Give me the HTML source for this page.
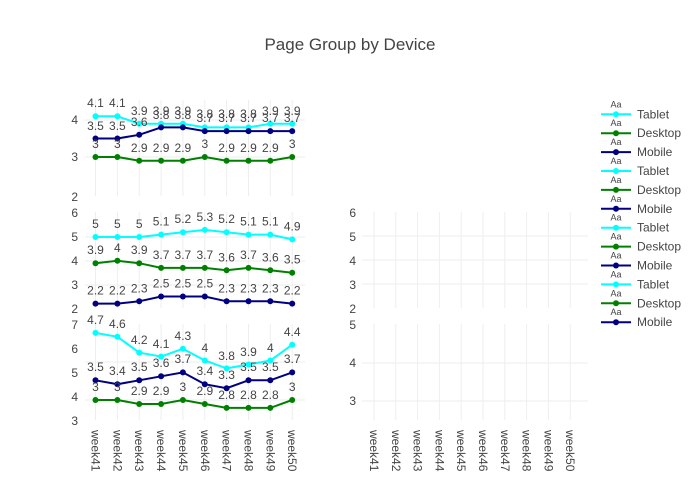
<!DOCTYPE html>
<html><head><meta charset="utf-8"><style>
body{margin:0;background:#fff}
svg{display:block;font-family:"Liberation Sans",sans-serif}
.t{font-size:12px;fill:#444}
.d{font-size:12px;fill:#444;text-anchor:middle}
.g{stroke:#eee;stroke-width:1}
.w{font-size:12px;fill:#444}
</style></head><body>
<svg width="700" height="500" viewBox="0 0 700 500">
<text x="350" y="50" text-anchor="middle" style="font-size:17px;fill:#444">Page Group by Device</text>

<!-- vertical gridlines left -->
<g class="g">
<path d="M95.5 100V196M117.4 100V196M139.2 100V196M161.1 100V196M182.9 100V196M204.8 100V196M226.6 100V196M248.5 100V196M270.3 100V196M292.2 100V196"/>
<path d="M95.5 212V308M117.4 212V308M139.2 212V308M161.1 212V308M182.9 212V308M204.8 212V308M226.6 212V308M248.5 212V308M270.3 212V308M292.2 212V308"/>
<path d="M95.5 324V420M117.4 324V420M139.2 324V420M161.1 324V420M182.9 324V420M204.8 324V420M226.6 324V420M248.5 324V420M270.3 324V420M292.2 324V420"/>
<path d="M85 120H305M85 157H305M85 237H305M85 261H305M85 285H305M85 362H305M85 400H305"/>
<path d="M374 212V308M395.8 212V308M417.6 212V308M439.4 212V308M461.2 212V308M483 212V308M504.8 212V308M526.6 212V308M548.4 212V308M570.2 212V308"/>
<path d="M374 324V420M395.8 324V420M417.6 324V420M439.4 324V420M461.2 324V420M483 324V420M504.8 324V420M526.6 324V420M548.4 324V420M570.2 324V420"/>
<path d="M362 236H588M362 260H588M362 284H588M362 363H588M362 401H588"/>
</g>

<!-- y tick labels left -->
<g class="t" text-anchor="end">
<text x="78" y="124">4</text><text x="78" y="161">3</text><text x="78" y="201">2</text>
<text x="78" y="217">6</text><text x="78" y="241">5</text><text x="78" y="265">4</text><text x="78" y="289">3</text><text x="78" y="313">2</text>
<text x="78" y="329">7</text><text x="78" y="353">6</text><text x="78" y="377">5</text><text x="78" y="401">4</text><text x="78" y="425">3</text>
<text x="356" y="217">6</text><text x="356" y="241">5</text><text x="356" y="265">4</text><text x="356" y="289">3</text><text x="356" y="313">2</text>
<text x="356" y="329">5</text><text x="356" y="367">4</text><text x="356" y="405">3</text>
</g>

<!-- x labels -->
<g class="w">
<text transform="translate(91.5,430) rotate(90)">week41</text>
<text transform="translate(113.4,430) rotate(90)">week42</text>
<text transform="translate(135.2,430) rotate(90)">week43</text>
<text transform="translate(157.1,430) rotate(90)">week44</text>
<text transform="translate(178.9,430) rotate(90)">week45</text>
<text transform="translate(200.8,430) rotate(90)">week46</text>
<text transform="translate(222.6,430) rotate(90)">week47</text>
<text transform="translate(244.5,430) rotate(90)">week48</text>
<text transform="translate(266.3,430) rotate(90)">week49</text>
<text transform="translate(288.2,430) rotate(90)">week50</text>
<text transform="translate(370,430) rotate(90)">week41</text>
<text transform="translate(391.8,430) rotate(90)">week42</text>
<text transform="translate(413.6,430) rotate(90)">week43</text>
<text transform="translate(435.4,430) rotate(90)">week44</text>
<text transform="translate(457.2,430) rotate(90)">week45</text>
<text transform="translate(479,430) rotate(90)">week46</text>
<text transform="translate(500.8,430) rotate(90)">week47</text>
<text transform="translate(522.6,430) rotate(90)">week48</text>
<text transform="translate(544.4,430) rotate(90)">week49</text>
<text transform="translate(566.2,430) rotate(90)">week50</text>
</g>

<!-- Top panel -->
<polyline fill="none" stroke="#00ffff" stroke-width="2" points="95.5,116.3 117.4,116.3 139.2,123.7 161.1,123.7 182.9,123.7 204.8,127.4 226.6,127.4 248.5,127.4 270.3,123.7 292.2,123.7"/>
<g fill="#00ffff"><circle cx="95.5" cy="116.3" r="3"/><circle cx="117.4" cy="116.3" r="3"/><circle cx="139.2" cy="123.7" r="3"/><circle cx="161.1" cy="123.7" r="3"/><circle cx="182.9" cy="123.7" r="3"/><circle cx="204.8" cy="127.4" r="3"/><circle cx="226.6" cy="127.4" r="3"/><circle cx="248.5" cy="127.4" r="3"/><circle cx="270.3" cy="123.7" r="3"/><circle cx="292.2" cy="123.7" r="3"/></g>
<polyline fill="none" stroke="#008000" stroke-width="2" points="95.5,157 117.4,157 139.2,160.7 161.1,160.7 182.9,160.7 204.8,157 226.6,160.7 248.5,160.7 270.3,160.7 292.2,157"/>
<g fill="#008000"><circle cx="95.5" cy="157" r="3"/><circle cx="117.4" cy="157" r="3"/><circle cx="139.2" cy="160.7" r="3"/><circle cx="161.1" cy="160.7" r="3"/><circle cx="182.9" cy="160.7" r="3"/><circle cx="204.8" cy="157" r="3"/><circle cx="226.6" cy="160.7" r="3"/><circle cx="248.5" cy="160.7" r="3"/><circle cx="270.3" cy="160.7" r="3"/><circle cx="292.2" cy="157" r="3"/></g>
<polyline fill="none" stroke="#000080" stroke-width="2" points="95.5,138.5 117.4,138.5 139.2,134.8 161.1,127.4 182.9,127.4 204.8,131.1 226.6,131.1 248.5,131.1 270.3,131.1 292.2,131.1"/>
<g fill="#000080"><circle cx="95.5" cy="138.5" r="3"/><circle cx="117.4" cy="138.5" r="3"/><circle cx="139.2" cy="134.8" r="3"/><circle cx="161.1" cy="127.4" r="3"/><circle cx="182.9" cy="127.4" r="3"/><circle cx="204.8" cy="131.1" r="3"/><circle cx="226.6" cy="131.1" r="3"/><circle cx="248.5" cy="131.1" r="3"/><circle cx="270.3" cy="131.1" r="3"/><circle cx="292.2" cy="131.1" r="3"/></g>
<g class="d">
<text x="95.5" y="107">4.1</text><text x="117.4" y="107">4.1</text><text x="139.2" y="115">3.9</text><text x="161.1" y="115">3.9</text><text x="182.9" y="115">3.9</text><text x="204.8" y="118">3.8</text><text x="226.6" y="118">3.8</text><text x="248.5" y="118">3.8</text><text x="270.3" y="115">3.9</text><text x="292.2" y="115">3.9</text>
<text x="95.5" y="148">3</text><text x="117.4" y="148">3</text><text x="139.2" y="152">2.9</text><text x="161.1" y="152">2.9</text><text x="182.9" y="152">2.9</text><text x="204.8" y="148">3</text><text x="226.6" y="152">2.9</text><text x="248.5" y="152">2.9</text><text x="270.3" y="152">2.9</text><text x="292.2" y="148">3</text>
<text x="95.5" y="130">3.5</text><text x="117.4" y="130">3.5</text><text x="139.2" y="126">3.6</text><text x="161.1" y="119">3.8</text><text x="182.9" y="119">3.8</text><text x="204.8" y="122">3.7</text><text x="226.6" y="122">3.7</text><text x="248.5" y="122">3.7</text><text x="270.3" y="122">3.7</text><text x="292.2" y="122">3.7</text>
</g>

<!-- Middle panel -->
<polyline fill="none" stroke="#00ffff" stroke-width="2" points="95.5,237 117.4,237 139.2,237 161.1,234.6 182.9,232.2 204.8,229.9 226.6,232.2 248.5,234.6 270.3,234.6 292.2,239.4"/>
<g fill="#00ffff"><circle cx="95.5" cy="237" r="3"/><circle cx="117.4" cy="237" r="3"/><circle cx="139.2" cy="237" r="3"/><circle cx="161.1" cy="234.6" r="3"/><circle cx="182.9" cy="232.2" r="3"/><circle cx="204.8" cy="229.9" r="3"/><circle cx="226.6" cy="232.2" r="3"/><circle cx="248.5" cy="234.6" r="3"/><circle cx="270.3" cy="234.6" r="3"/><circle cx="292.2" cy="239.4" r="3"/></g>
<polyline fill="none" stroke="#008000" stroke-width="2" points="95.5,263.2 117.4,260.8 139.2,263.2 161.1,267.9 182.9,267.9 204.8,267.9 226.6,270.3 248.5,267.9 270.3,270.3 292.2,272.7"/>
<g fill="#008000"><circle cx="95.5" cy="263.2" r="3"/><circle cx="117.4" cy="260.8" r="3"/><circle cx="139.2" cy="263.2" r="3"/><circle cx="161.1" cy="267.9" r="3"/><circle cx="182.9" cy="267.9" r="3"/><circle cx="204.8" cy="267.9" r="3"/><circle cx="226.6" cy="270.3" r="3"/><circle cx="248.5" cy="267.9" r="3"/><circle cx="270.3" cy="270.3" r="3"/><circle cx="292.2" cy="272.7" r="3"/></g>
<polyline fill="none" stroke="#000080" stroke-width="2" points="95.5,303.6 117.4,303.6 139.2,301.3 161.1,296.5 182.9,296.5 204.8,296.5 226.6,301.3 248.5,301.3 270.3,301.3 292.2,303.6"/>
<g fill="#000080"><circle cx="95.5" cy="303.6" r="3"/><circle cx="117.4" cy="303.6" r="3"/><circle cx="139.2" cy="301.3" r="3"/><circle cx="161.1" cy="296.5" r="3"/><circle cx="182.9" cy="296.5" r="3"/><circle cx="204.8" cy="296.5" r="3"/><circle cx="226.6" cy="301.3" r="3"/><circle cx="248.5" cy="301.3" r="3"/><circle cx="270.3" cy="301.3" r="3"/><circle cx="292.2" cy="303.6" r="3"/></g>
<g class="d">
<text x="95.5" y="228">5</text><text x="117.4" y="228">5</text><text x="139.2" y="228">5</text><text x="161.1" y="225.6">5.1</text><text x="182.9" y="223.2">5.2</text><text x="204.8" y="220.9">5.3</text><text x="226.6" y="223.2">5.2</text><text x="248.5" y="225.6">5.1</text><text x="270.3" y="225.6">5.1</text><text x="292.2" y="230.4">4.9</text>
<text x="95.5" y="254.2">3.9</text><text x="117.4" y="251.8">4</text><text x="139.2" y="254.2">3.9</text><text x="161.1" y="258.9">3.7</text><text x="182.9" y="258.9">3.7</text><text x="204.8" y="258.9">3.7</text><text x="226.6" y="261.3">3.6</text><text x="248.5" y="258.9">3.7</text><text x="270.3" y="261.3">3.6</text><text x="292.2" y="263.7">3.5</text>
<text x="95.5" y="294.6">2.2</text><text x="117.4" y="294.6">2.2</text><text x="139.2" y="292.3">2.3</text><text x="161.1" y="287.5">2.5</text><text x="182.9" y="287.5">2.5</text><text x="204.8" y="287.5">2.5</text><text x="226.6" y="292.3">2.3</text><text x="248.5" y="292.3">2.3</text><text x="270.3" y="292.3">2.3</text><text x="292.2" y="294.6">2.2</text>
</g>

<!-- Bottom panel -->
<polyline fill="none" stroke="#00ffff" stroke-width="2" points="95.5,332.9 117.4,336.8 139.2,352.6 161.1,356.6 182.9,348.7 204.8,360.5 226.6,368.4 248.5,364.5 270.3,360.5 292.2,344.7"/>
<g fill="#00ffff"><circle cx="95.5" cy="332.9" r="3"/><circle cx="117.4" cy="336.8" r="3"/><circle cx="139.2" cy="352.6" r="3"/><circle cx="161.1" cy="356.6" r="3"/><circle cx="182.9" cy="348.7" r="3"/><circle cx="204.8" cy="360.5" r="3"/><circle cx="226.6" cy="368.4" r="3"/><circle cx="248.5" cy="364.5" r="3"/><circle cx="270.3" cy="360.5" r="3"/><circle cx="292.2" cy="344.7" r="3"/></g>
<polyline fill="none" stroke="#000080" stroke-width="2" points="95.5,380.3 117.4,384.2 139.2,380.3 161.1,376.3 182.9,372.4 204.8,384.2 226.6,388.2 248.5,380.3 270.3,380.3 292.2,372.4"/>
<g fill="#000080"><circle cx="95.5" cy="380.3" r="3"/><circle cx="117.4" cy="384.2" r="3"/><circle cx="139.2" cy="380.3" r="3"/><circle cx="161.1" cy="376.3" r="3"/><circle cx="182.9" cy="372.4" r="3"/><circle cx="204.8" cy="384.2" r="3"/><circle cx="226.6" cy="388.2" r="3"/><circle cx="248.5" cy="380.3" r="3"/><circle cx="270.3" cy="380.3" r="3"/><circle cx="292.2" cy="372.4" r="3"/></g>
<polyline fill="none" stroke="#008000" stroke-width="2" points="95.5,400 117.4,400 139.2,404 161.1,404 182.9,400 204.8,404 226.6,407.9 248.5,407.9 270.3,407.9 292.2,400"/>
<g fill="#008000"><circle cx="95.5" cy="400" r="3"/><circle cx="117.4" cy="400" r="3"/><circle cx="139.2" cy="404" r="3"/><circle cx="161.1" cy="404" r="3"/><circle cx="182.9" cy="400" r="3"/><circle cx="204.8" cy="404" r="3"/><circle cx="226.6" cy="407.9" r="3"/><circle cx="248.5" cy="407.9" r="3"/><circle cx="270.3" cy="407.9" r="3"/><circle cx="292.2" cy="400" r="3"/></g>
<g class="d">
<text x="95.5" y="324">4.7</text><text x="117.4" y="328">4.6</text><text x="139.2" y="344">4.2</text><text x="161.1" y="348">4.1</text><text x="182.9" y="340">4.3</text><text x="204.8" y="352">4</text><text x="226.6" y="360">3.8</text><text x="248.5" y="356">3.9</text><text x="270.3" y="352">4</text><text x="292.2" y="336">4.4</text>
<text x="95.5" y="371">3.5</text><text x="117.4" y="375">3.4</text><text x="139.2" y="371">3.5</text><text x="161.1" y="367">3.6</text><text x="182.9" y="363">3.7</text><text x="204.8" y="375">3.4</text><text x="226.6" y="379">3.3</text><text x="248.5" y="371">3.5</text><text x="270.3" y="371">3.5</text><text x="292.2" y="363">3.7</text>
<text x="95.5" y="391">3</text><text x="117.4" y="391">3</text><text x="139.2" y="395">2.9</text><text x="161.1" y="395">2.9</text><text x="182.9" y="391">3</text><text x="204.8" y="395">2.9</text><text x="226.6" y="399">2.8</text><text x="248.5" y="399">2.8</text><text x="270.3" y="399">2.8</text><text x="292.2" y="391">3</text>
</g>

<!-- Legend -->
<g style="font-size:12px;fill:#444">
<g transform="translate(0,114.3)"><text x="616" y="-7" text-anchor="middle" style="font-size:9px">Aa</text><path d="M601 0H631" stroke="#00ffff" stroke-width="2"/><circle cx="616" cy="0" r="3" fill="#00ffff"/><text x="637" y="4">Tablet</text></g>
<g transform="translate(0,133.2)"><text x="616" y="-7" text-anchor="middle" style="font-size:9px">Aa</text><path d="M601 0H631" stroke="#008000" stroke-width="2"/><circle cx="616" cy="0" r="3" fill="#008000"/><text x="637" y="4">Desktop</text></g>
<g transform="translate(0,152.1)"><text x="616" y="-7" text-anchor="middle" style="font-size:9px">Aa</text><path d="M601 0H631" stroke="#000080" stroke-width="2"/><circle cx="616" cy="0" r="3" fill="#000080"/><text x="637" y="4">Mobile</text></g>
<g transform="translate(0,171)"><text x="616" y="-7" text-anchor="middle" style="font-size:9px">Aa</text><path d="M601 0H631" stroke="#00ffff" stroke-width="2"/><circle cx="616" cy="0" r="3" fill="#00ffff"/><text x="637" y="4">Tablet</text></g>
<g transform="translate(0,189.9)"><text x="616" y="-7" text-anchor="middle" style="font-size:9px">Aa</text><path d="M601 0H631" stroke="#008000" stroke-width="2"/><circle cx="616" cy="0" r="3" fill="#008000"/><text x="637" y="4">Desktop</text></g>
<g transform="translate(0,208.8)"><text x="616" y="-7" text-anchor="middle" style="font-size:9px">Aa</text><path d="M601 0H631" stroke="#000080" stroke-width="2"/><circle cx="616" cy="0" r="3" fill="#000080"/><text x="637" y="4">Mobile</text></g>
<g transform="translate(0,227.7)"><text x="616" y="-7" text-anchor="middle" style="font-size:9px">Aa</text><path d="M601 0H631" stroke="#00ffff" stroke-width="2"/><circle cx="616" cy="0" r="3" fill="#00ffff"/><text x="637" y="4">Tablet</text></g>
<g transform="translate(0,246.6)"><text x="616" y="-7" text-anchor="middle" style="font-size:9px">Aa</text><path d="M601 0H631" stroke="#008000" stroke-width="2"/><circle cx="616" cy="0" r="3" fill="#008000"/><text x="637" y="4">Desktop</text></g>
<g transform="translate(0,265.5)"><text x="616" y="-7" text-anchor="middle" style="font-size:9px">Aa</text><path d="M601 0H631" stroke="#000080" stroke-width="2"/><circle cx="616" cy="0" r="3" fill="#000080"/><text x="637" y="4">Mobile</text></g>
<g transform="translate(0,284.4)"><text x="616" y="-7" text-anchor="middle" style="font-size:9px">Aa</text><path d="M601 0H631" stroke="#00ffff" stroke-width="2"/><circle cx="616" cy="0" r="3" fill="#00ffff"/><text x="637" y="4">Tablet</text></g>
<g transform="translate(0,303.3)"><text x="616" y="-7" text-anchor="middle" style="font-size:9px">Aa</text><path d="M601 0H631" stroke="#008000" stroke-width="2"/><circle cx="616" cy="0" r="3" fill="#008000"/><text x="637" y="4">Desktop</text></g>
<g transform="translate(0,322.2)"><text x="616" y="-7" text-anchor="middle" style="font-size:9px">Aa</text><path d="M601 0H631" stroke="#000080" stroke-width="2"/><circle cx="616" cy="0" r="3" fill="#000080"/><text x="637" y="4">Mobile</text></g>
</g>
</svg>
</body></html>
